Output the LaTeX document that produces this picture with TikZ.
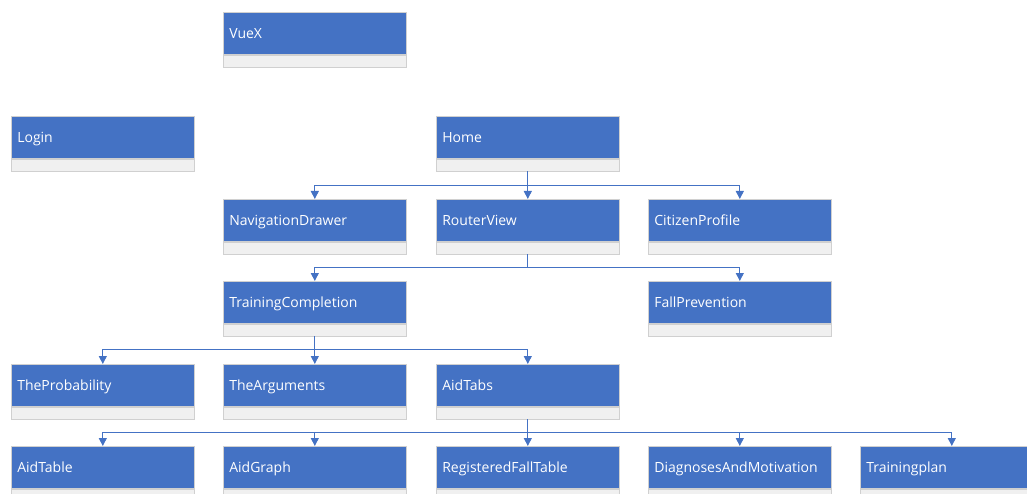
\documentclass[tikz,border=0pt]{standalone}
\usepackage{fontspec}
\setmainfont{Open Sans}
\usetikzlibrary{arrows.meta}
\definecolor{clsblue}{HTML}{4472C4}
\definecolor{clsgray}{HTML}{F0F0F0}
\definecolor{clsedge}{HTML}{D0D0D0}
\definecolor{linkblue}{HTML}{4472C4}
\tikzset{
  cls/.style={rectangle, fill=clsblue, draw=clsedge, line width=0.6pt,
    minimum width=183pt, minimum height=42pt, text width=171pt, inner xsep=6pt,
    inner ysep=0pt, text height=13pt, text depth=2pt, align=left, text=white,
    anchor=north west, font=\fontsize{14}{16}\selectfont},
  clsfoot/.style={rectangle, fill=clsgray, draw=clsedge, line width=0.6pt,
    minimum width=183pt, minimum height=12pt, inner sep=0pt, anchor=north west},
  link/.style={draw=linkblue, line width=0.9pt,
    -{Triangle[width=8pt,length=8pt]}},
}
\newcommand{\clsbox}[4]{%
  \node[cls] (#1) at (#2,#3) {#4};
  \node[clsfoot] (#1-g) at (#1.south west) {};
}
\begin{document}
\begin{tikzpicture}[x=1pt,y=-1pt]
\useasboundingbox (0,0) rectangle (1027,494);
\clsbox{vuex}{223}{12}{VueX}
\clsbox{login}{11}{116}{Login}
\clsbox{home}{436}{116}{Home}
\clsbox{nav}{223}{199}{NavigationDrawer}
\clsbox{router}{436}{199}{RouterView}
\clsbox{citizen}{648}{199}{CitizenProfile}
\clsbox{training}{223}{281}{TrainingCompletion}
\clsbox{fall}{648}{281}{FallPrevention}
\clsbox{prob}{11}{364}{TheProbability}
\clsbox{args}{223}{364}{TheArguments}
\clsbox{aidtabs}{436}{364}{AidTabs}
\clsbox{aidtable}{11}{446}{AidTable}
\clsbox{aidgraph}{223}{446}{AidGraph}
\clsbox{regfall}{436}{446}{RegisteredFallTable}
\clsbox{diag}{648}{446}{DiagnosesAndMotivation}
\clsbox{plan}{860}{446}{Trainingplan}
% connectors
\foreach \c in {nav,router,citizen}
  \draw[link] (home-g.south) -- ++(0,14) -| (\c.north);
\foreach \c in {training,fall}
  \draw[link] (router-g.south) -- ++(0,13) -| (\c.north);
\foreach \c in {prob,args,aidtabs}
  \draw[link] (training-g.south) -- ++(0,13) -| (\c.north);
\foreach \c in {aidtable,aidgraph,regfall,diag,plan}
  \draw[link] (aidtabs-g.south) -- ++(0,13) -| (\c.north);
\end{tikzpicture}
\end{document}
